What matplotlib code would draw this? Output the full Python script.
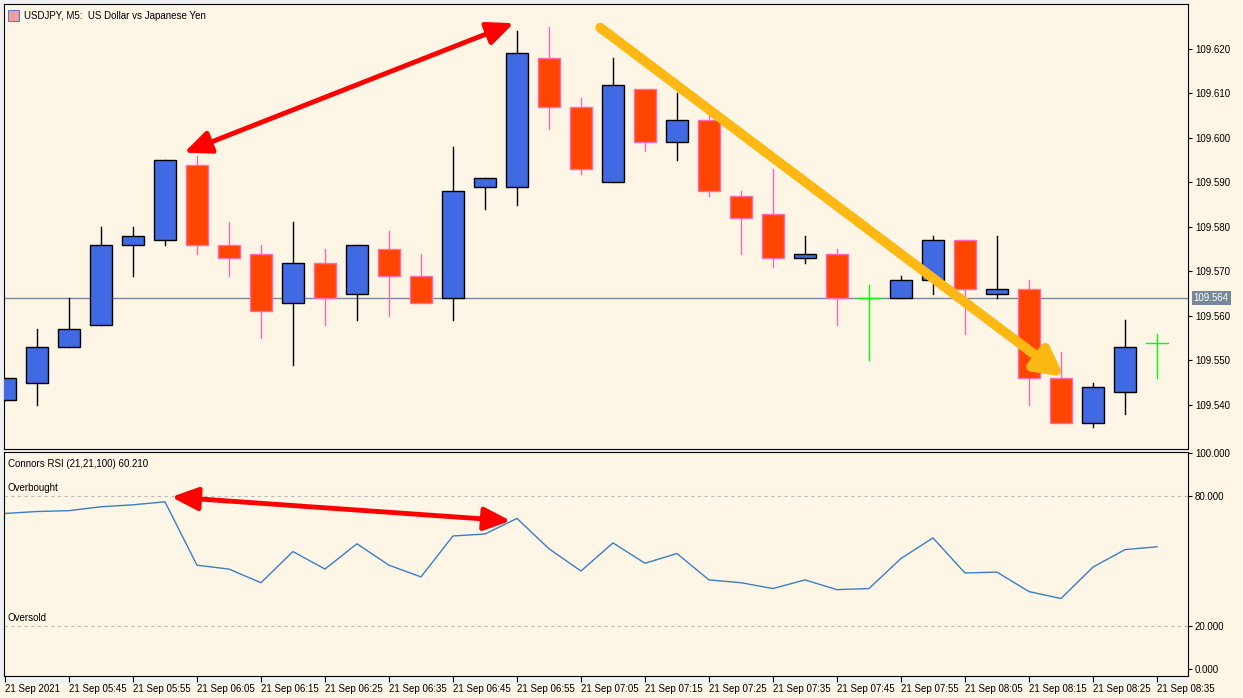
import matplotlib
matplotlib.use("Agg")
import matplotlib.pyplot as plt
from matplotlib.patches import Rectangle

plt.rcParams['font.family'] = ['Liberation Sans', 'DejaVu Sans']

opens  = [109.541,109.545,109.553,109.558,109.576,109.577,109.594,109.576,109.574,109.563,109.572,109.565,109.575,109.569,109.564,109.589,109.589,109.618,109.607,109.590,109.611,109.599,109.604,109.587,109.583,109.573,109.574,109.564,109.564,109.568,109.577,109.565,109.566,109.546,109.536,109.543,109.554]
highs  = [109.546,109.557,109.564,109.580,109.580,109.595,109.596,109.581,109.576,109.581,109.575,109.576,109.579,109.574,109.598,109.591,109.624,109.625,109.609,109.618,109.611,109.610,109.606,109.588,109.593,109.578,109.575,109.567,109.569,109.578,109.577,109.578,109.568,109.552,109.545,109.559,109.556]
lows   = [109.541,109.540,109.553,109.558,109.569,109.576,109.574,109.569,109.555,109.549,109.558,109.559,109.560,109.563,109.559,109.584,109.585,109.602,109.592,109.590,109.597,109.595,109.587,109.574,109.571,109.572,109.558,109.550,109.564,109.565,109.556,109.564,109.540,109.536,109.535,109.538,109.546]
closes = [109.546,109.553,109.557,109.576,109.578,109.595,109.576,109.573,109.561,109.572,109.564,109.576,109.569,109.563,109.588,109.591,109.619,109.607,109.593,109.612,109.599,109.604,109.588,109.582,109.573,109.574,109.564,109.564,109.568,109.577,109.566,109.566,109.546,109.536,109.544,109.553,109.554]
rsi = [71.9,72.8,73.2,75.0,75.9,77.3,48.0,46.2,39.9,54.3,46.2,57.9,48.0,42.6,61.5,62.4,69.6,55.6,45.3,58.3,48.9,53.4,41.2,39.9,37.2,41.2,36.7,37.2,51.1,60.6,44.4,44.8,35.8,32.6,47.1,55.2,56.5]
time_labels = ["21 Sep 2021"] + ["21 Sep %02d:%02d" % divmod(5*60+35+5*i, 60) for i in range(2, 37, 2)]
price_ticks = [109.540,109.550,109.560,109.570,109.580,109.590,109.600,109.610,109.620]
rsi_ticks = [0,20,80,100]
bid = 109.564

BG = "#FDF6E7"
FS = 7
W, H = 1243, 698
fig = plt.figure(figsize=(W/100, H/100), dpi=100, facecolor="#F0F0F0")
def ax_rect(l, t, r, b):
    return [l/W, 1-b/H, (r-l)/W, (b-t)/H]
ax = fig.add_axes(ax_rect(4, 4, 1188, 449), facecolor=BG)
ax2 = fig.add_axes(ax_rect(4, 452, 1188, 676), facecolor=BG)
fig.patches.append(Rectangle((1188/W, 14/H), 55/W, 684/H, transform=fig.transFigure, color=BG, zorder=-1))
fig.patches.append(Rectangle((0, 0), 1, 14/H, transform=fig.transFigure, color=BG, zorder=-1))

n = len(opens)
bw = 0.69
for i in range(n):
    o, h, l, c = opens[i], highs[i], lows[i], closes[i]
    if o == c:
        ax.plot([i, i], [l, h], color="#00FF00", lw=1)
        ax.plot([i-bw/2, i+bw/2], [o, o], color="#00FF00", lw=1)
        continue
    bull = c > o
    wick = "black" if bull else "#FF69B4"
    face = "#4169E1" if bull else "#FF4500"
    ax.plot([i, i], [l, h], color=wick, lw=1, zorder=2)
    ax.add_patch(Rectangle((i-bw/2, min(o, c)), bw, abs(c-o), facecolor=face, edgecolor=wick, lw=1, zorder=3))
ax.axhline(bid, color="#778899", lw=1, zorder=1)
ax.set_xlim(-0.03, 36.97)
ax.set_ylim(109.5301, 109.6301)
ax.set_xticks([])
ax.yaxis.tick_right()
ax.set_yticks(price_ticks)
ax.set_yticklabels(["%.3f" % v for v in price_ticks], fontsize=FS)
ax.tick_params(axis="y", length=3, pad=2)
ax.annotate("%.3f" % bid, xy=(1.0, bid), xycoords=("axes fraction", "data"), xytext=(4, 0), textcoords="offset points",
            va="center", ha="left", fontsize=FS, color="white",
            bbox=dict(boxstyle="square,pad=0.2", fc="#778899", ec="none"))
ax.text(0.017, 0.985, "USDJPY, M5:  US Dollar vs Japanese Yen", transform=ax.transAxes, fontsize=FS, va="top")
ax.add_patch(Rectangle((0.0035, 0.962), 0.009, 0.025, transform=ax.transAxes, fc="#E8A0A0", ec="#5060C0", lw=0.6, clip_on=False))

# arrows
ax.annotate("", xy=(5.6, 109.5967), xytext=(15.9, 109.6258),
            arrowprops=dict(arrowstyle="<|-|>,head_length=1.6,head_width=0.7", color="#FF0000", lw=3.5, shrinkA=0, shrinkB=0))
ax.annotate("", xy=(33.1, 109.5463), xytext=(18.6, 109.6248),
            arrowprops=dict(arrowstyle="-|>,head_length=1.6,head_width=0.85", color="#FDB813", lw=7, shrinkA=0, shrinkB=0))

ax2.plot(range(n), rsi, color="#3C7DC4", lw=1)
for lvl in (20, 80):
    ax2.axhline(lvl, color="#BBBBBB", lw=0.8, ls=(0, (3, 3)))
ax2.set_xlim(-0.03, 36.97)
ax2.set_ylim(-3.2, 100.3)
ax2.yaxis.tick_right()
ax2.set_yticks(rsi_ticks)
ax2.set_yticklabels(["%.3f" % v for v in rsi_ticks], fontsize=FS)
ax2.tick_params(axis="y", length=3, pad=2)
ax2.set_xticks([0] + list(range(2, 37, 2)))
ax2.set_xticklabels(time_labels, fontsize=FS, ha="left")
ax2.tick_params(axis="x", length=4, pad=2)
ax2.text(0.003, 0.97, "Connors RSI (21,21,100) 60.210", transform=ax2.transAxes, fontsize=FS, va="top")
ax2.text(0.003, 81.5, "Overbought", transform=ax2.get_yaxis_transform(), fontsize=FS, va="bottom")
ax2.text(0.003, 21.5, "Oversold", transform=ax2.get_yaxis_transform(), fontsize=FS, va="bottom")
ax2.annotate("", xy=(5.2, 79.5), xytext=(15.8, 68.5),
             arrowprops=dict(arrowstyle="<|-|>,head_length=1.6,head_width=0.7", color="#FF0000", lw=3.5, shrinkA=0, shrinkB=0))
for a in (ax, ax2):
    for s in a.spines.values():
        s.set_color("black"); s.set_linewidth(0.8)

fig.savefig("out.png", dpi=100, facecolor=fig.get_facecolor())
